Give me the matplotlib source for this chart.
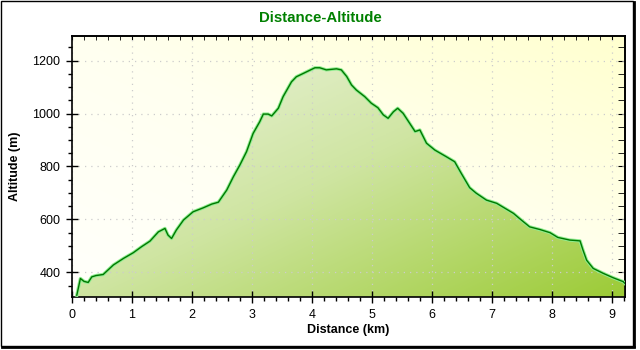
import numpy as np
import matplotlib
matplotlib.use('Agg')
import matplotlib.pyplot as plt
from matplotlib.colors import LinearSegmentedColormap
from matplotlib.patches import Rectangle
from matplotlib.lines import Line2D

plt.rcParams['font.family'] = ['Liberation Sans', 'DejaVu Sans']

# elevation profile, km / m
dist = [0.08, 0.11, 0.14, 0.20, 0.27, 0.33, 0.40, 0.52, 0.69, 0.86,
        1.02, 1.16, 1.30, 1.44, 1.55, 1.60, 1.66, 1.74, 1.86, 2.02,
        2.19, 2.33, 2.44, 2.58, 2.69, 2.80, 2.91, 3.02, 3.13, 3.19,
        3.27, 3.33, 3.44, 3.52, 3.66, 3.74, 3.86, 4.05, 4.13, 4.24,
        4.41, 4.49, 4.58, 4.66, 4.74, 4.88, 4.99, 5.10, 5.19, 5.27,
        5.36, 5.43, 5.52, 5.61, 5.72, 5.80, 5.91, 6.05, 6.24, 6.38,
        6.49, 6.63, 6.74, 6.91, 7.08, 7.22, 7.36, 7.49, 7.63, 7.80,
        7.97, 8.10, 8.30, 8.47, 8.52, 8.58, 8.69, 8.86, 9.02, 9.19, 9.22]
alt = [314, 345, 377, 366, 362, 383, 388, 392, 428, 453,
       474, 497, 518, 553, 566, 541, 528, 560, 598, 629,
       644, 658, 665, 711, 761, 806, 856, 925, 969, 998,
       998, 991, 1020, 1064, 1120, 1139, 1152, 1173, 1173, 1165,
       1169, 1165, 1140, 1108, 1089, 1064, 1039, 1022, 995, 982,
       1007, 1020, 1001, 970, 932, 938, 888, 862, 837, 818,
       774, 720, 699, 673, 661, 642, 623, 598, 572, 562,
       550, 532, 522, 519, 484, 446, 415, 396, 380, 365, 358]

x_ticks = [0, 1, 2, 3, 4, 5, 6, 7, 8, 9]
y_ticks = [400, 600, 800, 1000, 1200]

xmin, xmax = 0, 9.22
ymin, ymax = 307, 1293

fig = plt.figure(figsize=(6.4, 3.5), dpi=100)
fig.patch.set_facecolor('white')

# outer frame with a small shadow on the right and bottom
fig.patches.append(Rectangle((1 / 640, 4 / 350), 632 / 640, 345 / 350,
                             transform=fig.transFigure, fill=False,
                             edgecolor='black', lw=1.0))
fig.lines.append(Line2D([634 / 640, 634 / 640], [4 / 350, 348 / 350],
                        transform=fig.transFigure, color='black', lw=2.0))
fig.lines.append(Line2D([2 / 640, 634 / 640], [3.5 / 350, 3.5 / 350],
                        transform=fig.transFigure, color='black', lw=2.0))

ax = fig.add_axes([72 / 640, 53 / 350, 553 / 640, 261 / 350])
ax.set_xlim(xmin, xmax)
ax.set_ylim(ymin, ymax)

# background: pale, yellowing toward the upper right
gx, gy = np.meshgrid(np.linspace(0, 1, 200), np.linspace(0, 1, 200))
bg_t = 0.5 * (gx + gy)
bg_cmap = LinearSegmentedColormap.from_list('bg', ['#fffffb', '#fffff0', '#ffffcf'])
ax.imshow(bg_t, cmap=bg_cmap, origin='lower', extent=[xmin, xmax, ymin, ymax],
          aspect='auto', zorder=0, interpolation='bilinear')

# area under the profile with a diagonal green gradient
poly = ax.fill_between(dist, alt, ymin, color='none', lw=0, zorder=1)
fill_t = 0.5 * (gx + (1 - gy))
fill_cmap = LinearSegmentedColormap.from_list('fill', ['#f1f6e8', '#cfe5a2', '#9ccb36'])
img = ax.imshow(fill_t, cmap=fill_cmap, origin='lower', extent=[xmin, xmax, ymin, ymax],
                aspect='auto', zorder=1, interpolation='bilinear')
img.set_clip_path(poly.get_paths()[0], transform=ax.transData)

ax.plot(dist, alt, color='#90ee90', lw=2.4, zorder=3)
ax.plot(dist, alt, color='#007800', lw=1.0, zorder=4)

ax.set_xticks(x_ticks)
ax.set_yticks(y_ticks)
ax.set_xticks(np.arange(0, 9.21, 0.2), minor=True)
ax.set_yticks(np.arange(350, 1291, 50), minor=True)
ax.grid(True, which='major', color='#cccccc', lw=0.9, linestyle=(0, (1, 4)))
for g in ax.get_xgridlines() + ax.get_ygridlines():
    g.set_zorder(0.5)

ax.tick_params(which='major', direction='inout', length=9, width=1, labelsize=9,
               colors='black', pad=4)
ax.tick_params(which='minor', direction='out', length=3, width=1)

# ticks on the top and right point inward
top = ax.secondary_xaxis('top')
top.set_xticks(x_ticks)
top.set_xticks(np.arange(0, 9.21, 0.2), minor=True)
top.tick_params(which='both', direction='in', length=3, labeltop=False)
right = ax.secondary_yaxis('right')
right.set_yticks(y_ticks)
right.set_yticks(np.arange(350, 1291, 50), minor=True)
right.tick_params(which='both', direction='in', length=5, labelright=False)
for s in list(ax.spines.values()) + [top.spines['top'], right.spines['right']]:
    s.set_linewidth(1.2)

ax.set_xlabel('Distance (km)', fontsize=9, fontweight='bold', labelpad=2)
ax.set_ylabel('Altitude (m)', fontsize=9, fontweight='bold', labelpad=8)
fig.text(0.5, 1 - 18 / 350, 'Distance-Altitude', ha='center', va='center',
         fontsize=10.8, fontweight='bold', color='#008000')

fig.savefig('out.png', dpi=100)
